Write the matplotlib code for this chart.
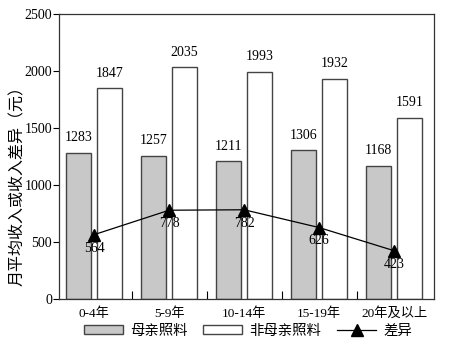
import matplotlib.pyplot as plt
import numpy as np

# 数据
groups = ['0-4年', '5-9年', '10-14年', '15-19年', '20年及以上']
mother = [1283, 1257, 1211, 1306, 1168]
non_mother = [1847, 2035, 1993, 1932, 1591]
diff = [564, 778, 782, 626, 423]

plt.rcParams['font.family'] = ['Liberation Serif', 'Noto Sans CJK SC', 'DejaVu Sans']

fig = plt.figure(figsize=(4.5, 3.46), dpi=100)
ax = fig.add_axes([0.131, 0.136, 0.833, 0.824])

x = np.arange(len(groups))
w = 0.333
off = 0.207

b1 = ax.bar(x - off, mother, w, color='#c8c8c8', edgecolor='#444444', linewidth=1.0,
            label='母亲照料')
b2 = ax.bar(x + off, non_mother, w, color='white', edgecolor='#444444', linewidth=1.0,
            label='非母亲照料')
ln, = ax.plot(x, diff, color='black', linewidth=0.9, marker='^', markersize=9,
              label='差异')

for xi, v in zip(x - off, mother):
    ax.annotate(str(v), (xi, v), xytext=(0, 6), textcoords='offset points',
                ha='center', va='bottom', fontsize=10)
for xi, v in zip(x + off, non_mother):
    ax.annotate(str(v), (xi, v), xytext=(0, 6), textcoords='offset points',
                ha='center', va='bottom', fontsize=10)
for xi, v in zip(x, diff):
    ax.annotate(str(v), (xi, v), xytext=(0, -5), textcoords='offset points',
                ha='center', va='top', fontsize=10)

ax.set_xlim(-0.47, 4.53)
ax.set_ylim(0, 2500)
ax.set_yticks([0, 500, 1000, 1500, 2000, 2500])
ax.tick_params(axis='y', direction='out', length=4, width=0.8, labelsize=10, pad=1)
ax.set_xticks(x)
ax.set_xticklabels(groups, fontsize=9.5)
ax.tick_params(axis='x', which='major', length=0, pad=6)
ax.set_xticks(x[:-1] + 0.5, minor=True)
ax.tick_params(axis='x', which='minor', direction='in', length=6, width=0.8)
for s in ax.spines.values():
    s.set_linewidth(0.9)
    s.set_color('#333333')

ax.set_ylabel('月平均收入或收入差异（元）', fontsize=11.5)
ax.yaxis.set_label_coords(-0.088, 0.41)

fig.legend(handles=[b1, b2, ln], loc='center', ncol=3, frameon=False,
           bbox_to_anchor=(0.551, 0.043), fontsize=10.4, handlelength=2.7,
           handleheight=0.6, columnspacing=1.1, handletextpad=0.5)

fig.savefig('out.png', dpi=100)
